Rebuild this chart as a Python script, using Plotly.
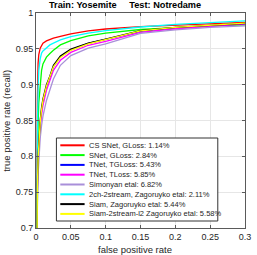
import plotly.graph_objects as go

fpr = [0, 0.001, 0.002, 0.003, 0.004, 0.006, 0.008, 0.01, 0.015, 0.02, 0.025, 0.035,
       0.05, 0.075, 0.1, 0.15, 0.2, 0.25, 0.3]

tpr_cs_snet = [0.55, 0.75, 0.88, 0.93, 0.942, 0.951, 0.955, 0.958, 0.961, 0.963, 0.965, 0.9675,
               0.971, 0.975, 0.9777, 0.981, 0.983, 0.985, 0.987]
tpr_snet = [0.5, 0.68, 0.78, 0.845, 0.875, 0.905, 0.92, 0.929, 0.9385, 0.9435, 0.948, 0.9555,
            0.9615, 0.968, 0.972, 0.977, 0.98, 0.982, 0.9835]
tpr_tnet_tg = [0.45, 0.69, 0.755, 0.795, 0.815, 0.845, 0.864, 0.877, 0.897, 0.91, 0.925, 0.939,
               0.9485, 0.9575, 0.963, 0.9745, 0.979, 0.982, 0.985]
tpr_tnet_t = [0.45, 0.685, 0.75, 0.79, 0.81, 0.84, 0.858, 0.871, 0.892, 0.905, 0.92, 0.934,
              0.945, 0.955, 0.9605, 0.973, 0.978, 0.9815, 0.985]
tpr_simonyan = [0.42, 0.67, 0.735, 0.775, 0.795, 0.825, 0.843, 0.856, 0.878, 0.893, 0.908, 0.927,
                0.9405, 0.951, 0.957, 0.9715, 0.9765, 0.98, 0.982]
tpr_2ch = [0.5, 0.72, 0.84, 0.895, 0.92, 0.936, 0.944, 0.947, 0.952, 0.9555, 0.958, 0.9625,
           0.967, 0.972, 0.9755, 0.9805, 0.984, 0.987, 0.989]
tpr_siam = [0.45, 0.7, 0.76, 0.8, 0.82, 0.85, 0.868, 0.88, 0.9, 0.912, 0.927, 0.94,
            0.9495, 0.958, 0.9635, 0.9755, 0.98, 0.983, 0.9855]
tpr_siam2s = [0.45, 0.695, 0.757, 0.797, 0.817, 0.847, 0.865, 0.878, 0.898, 0.911, 0.925, 0.938,
              0.948, 0.957, 0.963, 0.975, 0.98, 0.983, 0.986]

names = ["CS SNet, GLoss: 1.14%", "SNet, GLoss: 2.84%", "TNet, TGLoss: 5.43%",
         "TNet, TLoss: 5.85%", "Simonyan etal: 6.82%", "2ch-2stream, Zagoruyko etal: 2.11%",
         "Siam, Zagoruyko etal: 5.44%", "Siam-2stream-l2 Zagoruyko etal: 5.58%"]
series = [tpr_cs_snet, tpr_snet, tpr_tnet_tg, tpr_tnet_t, tpr_simonyan, tpr_2ch, tpr_siam, tpr_siam2s]
colors = ["#ff0000", "#00ff00", "#0000ff", "#ff00ff", "#a98fd9", "#00ffff", "#000000", "#ffff00"]

x_ticks = [0, 0.05, 0.1, 0.15, 0.2, 0.25, 0.3]
x_ticklabels = ["0", "0.05", "0.1", "0.15", "0.2", "0.25", "0.3"]
y_ticks = [0.7, 0.75, 0.8, 0.85, 0.9, 0.95, 1]
y_ticklabels = ["0.7", "0.75", "0.8", "0.85", "0.9", "0.95", "1"]

W, H = 257, 255
L, R, T, B = 36, 6, 13, 27
PW, PH = W - L - R, H - T - B

def px_x(p):
    return (p - L) / PW

def px_y(p):
    return (H - B - p) / PH

fig = go.Figure()
for n, s, c in zip(names, series, colors):
    fig.add_trace(go.Scatter(x=fpr, y=s, mode="lines", name=n,
                             line=dict(color=c, width=1.3), showlegend=False,
                             hoverinfo="skip"))

axis_common = dict(showline=True, linecolor="#5a5a5a", linewidth=1, mirror="ticks",
                   ticks="inside", ticklen=3, tickcolor="#5a5a5a", showgrid=True,
                   gridcolor="#e6e6e6", gridwidth=1, zeroline=False,
                   ticklabeloverflow="allow",
                   tickfont=dict(family="Liberation Sans, Arial", size=9, color="#262626"))
fig.update_xaxes(range=[0, 0.3], tickvals=x_ticks, ticktext=x_ticklabels, **axis_common)
fig.update_yaxes(range=[0.7, 1], tickvals=y_ticks, ticktext=y_ticklabels, **axis_common)

shapes = []
annotations = []
# legend box
shapes.append(dict(type="rect", xref="paper", yref="paper", x0=px_x(57), x1=px_x(223),
                   y0=px_y(221), y1=px_y(138), fillcolor="white",
                   line=dict(color="#333333", width=1), layer="above"))
for i, (n, c) in enumerate(zip(names, colors)):
    yy = px_y(145.3 + i * 9.8)
    shapes.append(dict(type="line", xref="paper", yref="paper", x0=px_x(61), x1=px_x(86),
                       y0=yy, y1=yy, line=dict(color=c, width=2), layer="above"))
    annotations.append(dict(text=n, xref="paper", yref="paper", x=px_x(88.5), y=yy,
                            xanchor="left", yanchor="middle", showarrow=False,
                            font=dict(family="Liberation Sans, Arial", size=7.5, color="#262626")))

annotations.append(dict(text="<b>Train: Yosemite\u00a0\u00a0\u00a0\u00a0\u00a0Test: Notredame</b>",
                        xref="paper", yref="paper", x=px_x(127.5), y=px_y(5.5),
                        xanchor="center", yanchor="middle", showarrow=False,
                        font=dict(family="Liberation Sans, Arial", size=9.2, color="#000000")))
annotations.append(dict(text="false positive rate", xref="paper", yref="paper",
                        x=px_x(137.5), y=px_y(249.5), xanchor="center", yanchor="middle",
                        showarrow=False,
                        font=dict(family="Liberation Sans, Arial", size=9.5, color="#262626")))
annotations.append(dict(text="true positive rate (recall)", xref="paper", yref="paper",
                        x=px_x(5.5), y=px_y(120.5), xanchor="center", yanchor="middle",
                        textangle=-90, showarrow=False,
                        font=dict(family="Liberation Sans, Arial", size=9.5, color="#262626")))

fig.update_layout(width=W, height=H, margin=dict(l=L, r=R, t=T, b=B),
                  paper_bgcolor="white", plot_bgcolor="white", hovermode=False,
                  shapes=shapes, annotations=annotations, showlegend=False)

fig.write_html("out.html", config={"displayModeBar": False, "staticPlot": True},
               post_script="document.body.style.margin='0';document.body.style.overflow='hidden';")
